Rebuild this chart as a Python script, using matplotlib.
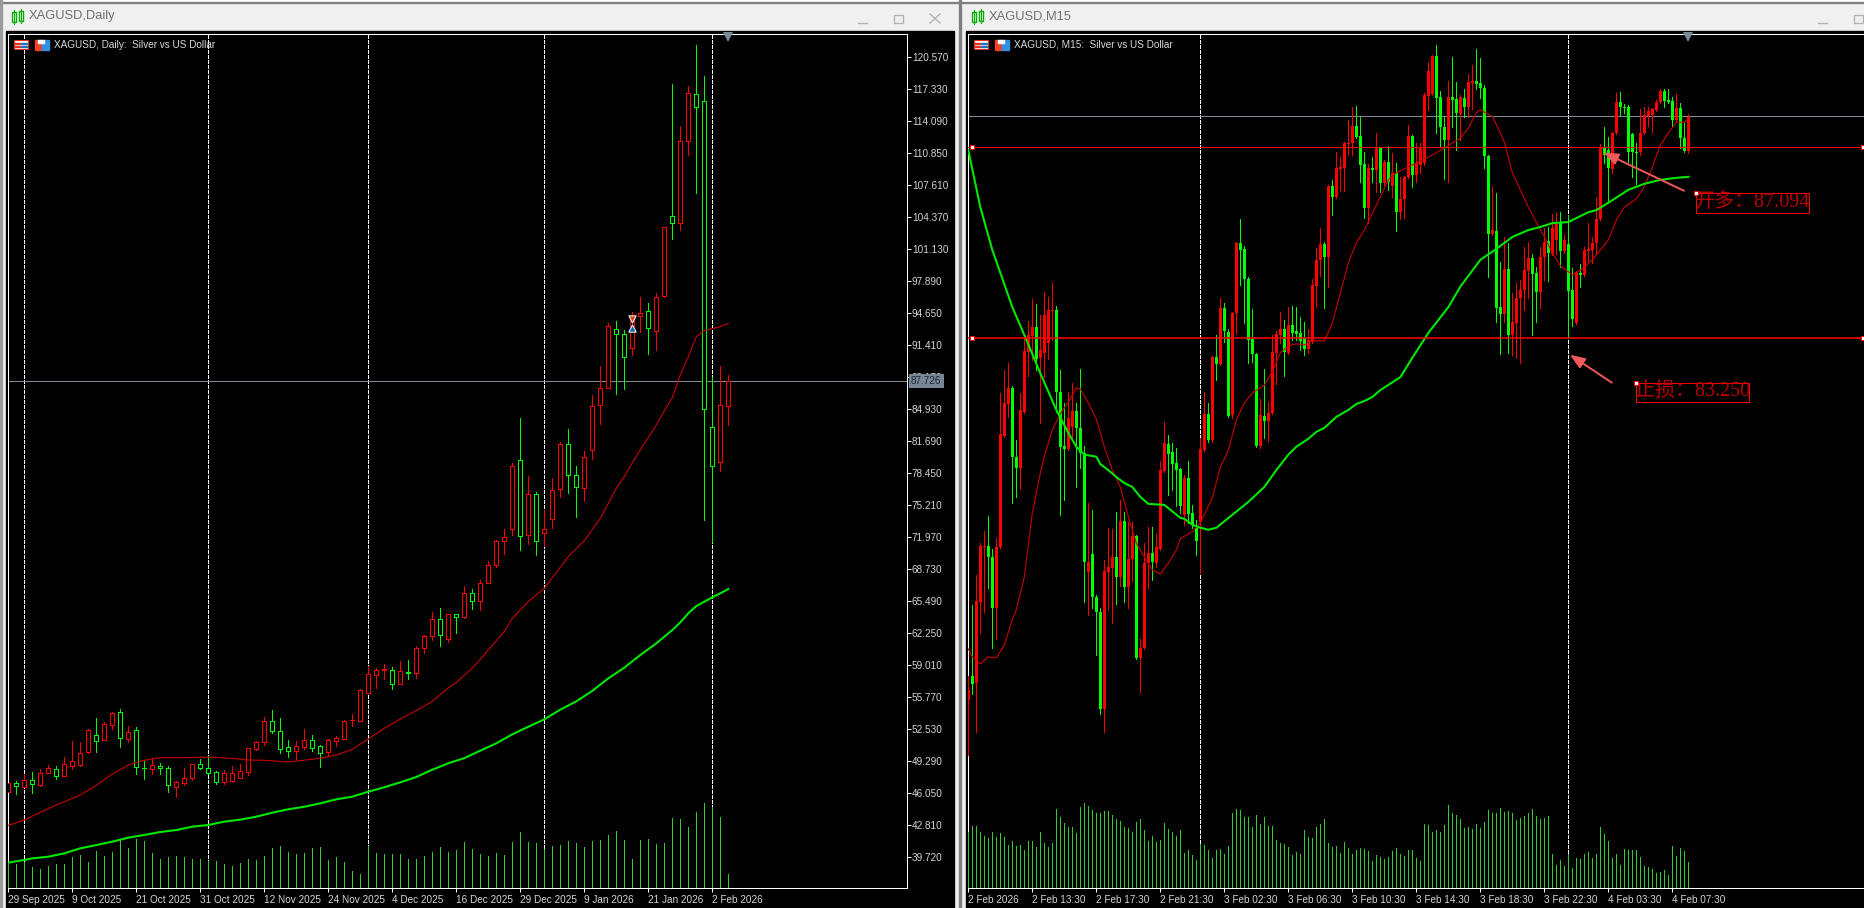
import numpy as np
import matplotlib
matplotlib.use('Agg')
import matplotlib.pyplot as plt
from matplotlib.patches import Rectangle

W, H = 1865, 908
UI_FONT = ['Liberation Sans', 'DejaVu Sans']
NOTE_FONT = ['Liberation Serif', 'Noto Sans CJK SC']
PX = 0.72  # one pixel in points at dpi 100

# ---- daily chart. r = up candle, g = down candle
d1_dir = "rgrgrrgrrr" "rgrrgrggrg" "grrrgggrrr" "rrrgggrrgg" "rrrrrrrrgr" "grrrgrgrgr" "rrrrgrgrrr" "ggrrrrggrr" "grrgrrgggrr"
d1_high = [47.07,47.23,47.91,48.14,48.45,48.85,48.75,49.63,51.28,51.18,
           52.46,53.61,53.17,54.19,54.49,52.80,52.67,49.26,49.53,49.02,
           48.72,47.27,48.55,48.99,49.43,49.77,48.25,48.35,48.79,48.96,
           50.61,51.28,53.68,54.42,53.61,51.39,51.25,52.46,51.86,50.85,
           51.45,51.79,53.41,54.02,56.55,58.88,58.65,59.08,58.75,59.39,
           59.49,60.91,61.99,64.35,64.76,64.18,64.15,66.98,66.68,67.59,
           69.51,71.61,72.75,79.40,83.99,78.09,76.49,74.68,77.88,81.53,
           82.88,79.10,80.62,86.29,89.26,93.58,93.81,92.87,94.69,96.21,
           95.60,96.62,103.36,117.80,113.55,117.60,121.75,118.62,88.11,89.26,88.31]
d1_top = [47.00,47.00,47.34,47.34,48.01,48.52,48.41,48.96,49.29,50.03,
          52.40,51.86,53.00,54.09,54.19,52.23,52.36,48.52,48.82,48.79,
          48.52,47.10,47.57,48.92,48.92,48.52,48.11,48.01,48.01,48.28,
          50.54,51.22,53.27,53.27,52.26,50.64,50.74,51.35,51.35,50.74,
          51.35,51.59,53.34,53.44,56.41,58.04,58.44,58.55,58.44,58.34,
          58.24,60.67,61.89,63.61,63.61,64.11,64.11,66.24,66.24,67.25,
          69.07,71.50,71.91,79.10,79.77,76.26,76.26,72.79,76.67,81.33,
          81.39,78.25,80.01,85.17,87.00,93.27,92.97,92.46,94.25,94.59,
          94.79,96.21,103.29,104.41,112.00,116.86,116.76,116.05,83.05,85.27,87.73]
d1_bot = [46.15,46.73,46.66,46.93,46.83,48.08,47.74,47.77,48.75,48.85,
          50.17,51.32,51.42,52.90,51.62,51.49,48.69,48.50,48.45,48.58,
          46.83,46.59,47.03,47.57,48.58,48.08,47.17,47.13,47.27,47.57,
          48.18,50.47,51.22,52.33,50.51,50.24,50.24,50.71,50.61,50.03,
          50.20,51.28,51.52,53.41,53.34,56.18,58.00,58.44,57.09,57.09,
          58.22,58.14,60.67,61.89,61.99,61.58,63.81,63.81,65.50,65.50,
          67.32,69.14,71.57,72.79,72.08,72.18,71.57,72.32,73.73,76.77,
          78.19,76.97,76.94,80.79,85.27,87.06,92.46,90.13,91.05,94.35,
          93.14,92.83,96.37,103.70,103.77,112.07,115.51,84.94,79.17,79.57,85.24]
d1_low = [46.09,45.92,46.59,46.05,46.76,48.01,47.47,47.74,48.48,48.79,
          50.10,50.17,51.38,52.50,50.68,51.18,47.98,47.44,47.94,47.94,
          46.15,45.61,46.83,47.37,48.41,47.94,46.93,46.96,47.17,47.50,
          47.84,50.41,50.88,52.09,50.10,49.63,49.46,50.47,50.27,48.65,
          49.77,50.81,51.45,52.84,53.27,56.12,56.69,57.57,56.55,57.03,
          57.57,57.70,60.23,61.55,60.91,61.35,62.22,63.78,64.65,64.59,
          67.25,68.91,70.26,72.15,70.63,71.27,70.12,71.03,72.85,76.03,
          76.43,74.00,75.62,79.84,83.42,87.00,86.42,86.93,90.37,92.73,
          90.47,90.88,96.27,102.08,103.02,110.62,106.80,73.67,71.47,78.63,83.28]
d1_volume = [80,73,80,64,57,67,73,73,94,100,79,112,97,109,145,121,148,142,106,88,
             94,97,94,88,88,82,82,73,67,76,88,85,97,121,127,109,103,106,121,124,
             85,94,79,52,43,127,106,103,103,103,88,88,97,109,124,109,115,139,118,103,
             97,106,100,139,169,139,136,118,127,130,142,136,124,142,145,160,172,145,88,145,
             148,133,136,211,208,184,229,256,244,214,43]

d1_fast_bar = [0,2,4,6,9,11,13,15,17,19,22,25,28,30,32,35,39,41,43,45,47,49,51,53,55,56,58,60,62,63,65,67,
               70,72,74,76,77,78,79,81,82,83,84,85,86,87,88,89,90]
d1_fast = [42.75,43.29,44.06,44.80,45.82,46.80,47.94,48.85,49.33,49.60,49.60,49.66,49.53,49.36,49.33,49.16,
           49.53,49.87,50.44,51.49,52.57,53.51,54.36,55.30,56.65,57.23,58.65,60.50,62.36,63.71,65.40,66.75,
           69.95,71.57,73.83,76.87,78.05,79.47,80.75,83.28,84.73,86.05,88.35,90.20,92.23,92.83,93.04,93.24,93.58]
d1_slow_bar = [0,2,3,5,7,9,11,13,15,17,19,21,23,25,27,29,31,33,35,37,39,41,43,45,47,49,51,53,55,57,59,61,
               63,65,67,69,71,73,75,77,79,81,83,84,85,86,87,88,89,90]
d1_slow = [38.97,39.24,39.40,39.57,39.91,40.42,40.75,41.09,41.50,41.77,42.07,42.27,42.61,42.78,43.12,43.32,
           43.62,44.03,44.37,44.63,44.97,45.38,45.65,46.15,46.60,47.10,47.64,48.38,49.03,49.55,50.31,51.05,
           51.96,52.73,53.48,54.46,55.30,56.36,57.63,58.71,59.99,61.17,62.52,63.30,64.21,64.95,65.39,65.83,66.24,66.67]

d1_ticks = [120.57,117.33,114.09,110.85,107.61,104.37,101.13,97.89,94.65,91.41,88.17,84.93,81.69,
            78.45,75.21,71.97,68.73,65.49,62.25,59.01,55.77,52.53,49.29,46.05,42.81,39.57]
d1_tick_labels = ['120.570','117.330','114.090','110.850','107.610','104.370','101.130','97.890','94.650',
                  '91.410','88.170','84.930','81.690','78.450','75.210','71.970','68.730','65.490','62.250',
                  '59.010','55.770','52.530','49.290','46.050','42.810','39.720']
d1_dates = ['29 Sep 2025','9 Oct 2025','21 Oct 2025','31 Oct 2025','12 Nov 2025','24 Nov 2025',
            '4 Dec 2025','16 Dec 2025','29 Dec 2025','9 Jan 2026','21 Jan 2026','2 Feb 2026']
d1_separators = [2,25,45,67,88]
last_price = 87.726

# ---- 15 minute chart
m15_dir = ("rgrrrggrrr" "rggrrrrgrr" "rrgggrrggg" "rgggrrrgrg" "rrgrrrgrrr" "ggggrgggrr" "grgrggrrgg" "gggrgrrrrg"
           "rggggrrrrg" "rgrrrrrggg" "rgrgrgrgrr" "rgrrrrrggg" "rggrgrrggg" "grggrgrrrr" "rggrrgrrgr" "ggrgrrrrrg"
           "grrgggggrr" "rrrrgggrggr")
m15_high = [76.46,77.89,78.49,79.13,79.38,79.68,79.01,79.23,82.15,82.62,
            82.76,82.29,81.21,82.15,83.32,83.60,84.04,83.94,83.72,84.19,
            84.08,84.37,83.90,82.62,81.95,82.17,82.35,81.95,82.64,81.09,
            79.94,79.80,78.09,77.83,78.79,79.44,79.42,79.76,80.00,79.76,
            79.56,79.56,79.30,77.20,79.13,79.46,79.46,79.32,80.78,81.57,
            81.31,81.15,81.05,80.64,80.50,80.78,79.90,79.60,81.25,82.17,
            81.95,82.90,83.32,84.06,83.96,83.44,83.78,85.19,85.65,85.11,
            84.49,83.84,82.96,82.03,82.64,81.97,83.32,83.40,83.78,83.62,
            83.88,83.90,83.88,83.68,83.58,83.44,84.45,85.07,85.47,85.19,
            86.34,86.44,87.00,86.90,87.20,87.65,87.91,87.93,87.71,87.00,
            86.76,86.90,87.38,87.10,86.84,87.12,86.98,86.78,86.50,86.52,
            87.54,87.34,87.18,87.18,88.19,88.81,88.95,89.15,88.23,87.71,
            88.43,88.91,88.41,88.15,88.27,88.57,88.75,89.07,88.89,88.35,
            86.94,86.30,86.18,84.79,85.29,85.17,84.16,84.37,84.43,85.09,
            85.19,84.95,84.69,85.09,85.47,85.49,85.75,85.77,85.79,85.33,
            85.73,84.67,84.61,84.75,85.09,85.57,85.29,86.10,87.16,87.50,
            87.30,87.40,88.19,88.21,87.97,87.95,87.38,87.18,87.87,87.91,
            87.91,87.89,88.05,88.27,88.27,88.27,88.11,88.17,87.99,87.59,87.77]
m15_top = [76.18,76.46,77.97,79.07,79.07,79.07,78.85,79.05,81.33,81.95,
           82.25,82.25,80.87,81.81,83.00,83.32,83.48,83.48,83.02,83.72,
           83.82,83.82,83.82,82.17,81.09,81.65,81.79,81.79,81.45,80.95,
           78.75,78.91,78.05,77.75,78.57,78.65,78.85,78.85,79.58,79.58,
           78.81,79.28,79.28,77.02,78.73,78.93,78.93,79.05,80.60,81.15,
           81.13,80.97,80.74,80.62,80.44,80.44,79.74,79.44,81.02,81.73,
           81.73,82.88,82.88,83.86,83.86,83.38,83.76,85.17,85.17,85.05,
           84.45,83.24,82.94,81.71,81.69,81.75,82.98,83.34,83.44,83.44,
           83.52,83.52,83.40,83.36,83.26,83.22,84.33,84.83,85.15,85.15,
           86.32,86.32,86.68,86.70,87.18,87.18,87.52,87.52,87.32,86.76,
           86.68,86.68,87.08,87.08,86.80,86.80,86.58,86.58,86.06,86.50,
           87.32,87.32,86.78,87.10,88.15,88.63,88.93,88.93,88.11,87.50,
           88.11,88.11,88.07,88.11,88.09,88.41,88.43,88.43,88.39,88.29,
           86.92,85.43,85.41,83.88,84.65,84.65,83.58,84.06,84.22,84.63,
           84.87,84.87,84.57,84.89,85.19,85.21,85.47,85.55,85.59,85.23,
           85.15,84.22,84.59,84.57,85.03,85.05,85.17,85.65,87.08,87.08,
           87.04,87.38,88.01,88.01,87.91,87.91,87.36,87.00,87.38,87.75,
           87.83,87.87,88.01,88.23,88.23,88.05,88.03,87.89,87.89,87.28,87.70]
m15_bot = [75.97,76.30,76.32,77.95,79.05,78.85,77.83,77.83,79.05,81.29,
           81.93,80.87,80.64,80.64,81.77,82.98,83.30,82.84,82.86,82.96,
           83.16,83.80,82.17,81.07,81.03,81.03,81.47,81.45,80.95,78.75,
           78.55,78.05,77.75,75.79,75.79,78.55,78.63,78.45,78.45,78.25,
           78.25,78.81,76.82,76.82,77.02,78.73,78.75,78.73,79.01,80.58,
           80.93,80.72,80.60,79.88,79.70,79.72,79.50,79.17,79.56,81.01,
           81.21,81.21,82.74,82.74,83.40,81.69,81.71,83.76,85.03,84.45,
           83.22,82.94,81.09,81.09,81.59,81.59,81.75,82.96,83.32,82.98,
           82.96,83.36,83.34,83.20,83.04,83.04,83.18,84.31,84.83,84.89,
           84.89,86.10,86.10,86.66,86.68,87.16,87.18,87.30,86.74,85.87,
           85.87,86.64,86.64,86.38,86.38,86.40,86.32,85.79,85.79,86.06,
           86.50,86.54,86.54,86.74,86.78,88.13,88.17,88.09,87.50,87.24,
           87.24,88.05,87.79,87.77,87.91,87.91,88.39,88.37,88.29,86.92,
           85.35,85.35,83.86,83.74,83.74,83.32,83.32,83.56,84.06,84.22,
           84.61,84.55,84.19,84.19,84.89,84.97,84.95,85.23,85.01,85.01,
           84.20,83.64,83.56,84.53,84.53,85.01,85.03,85.17,85.65,86.94,
           86.68,86.66,87.38,87.91,87.89,87.00,87.00,86.98,87.00,87.38,
           87.73,87.75,87.85,88.01,88.03,88.01,87.65,87.65,87.28,87.02,87.02]
m15_low = [74.87,76.10,75.33,77.32,77.75,78.23,77.02,77.20,79.03,81.27,
           81.67,79.94,80.06,80.22,81.75,82.49,82.82,82.62,81.55,82.47,
           82.84,83.22,81.77,79.70,80.00,81.01,81.21,80.26,80.64,77.95,
           77.69,77.83,76.88,75.69,75.33,77.79,77.53,77.91,78.27,77.95,
           77.83,78.37,76.80,76.14,77.00,78.23,78.39,78.65,78.99,80.56,
           80.10,80.20,79.88,79.74,79.50,79.54,79.44,78.89,78.53,80.99,
           81.17,81.17,82.41,82.72,83.18,81.67,81.65,83.36,84.33,83.56,
           82.76,82.78,81.07,81.05,81.25,81.19,81.73,82.33,83.16,82.49,
           82.94,83.22,83.22,83.02,82.92,82.96,83.16,83.88,84.51,83.86,
           84.29,85.73,86.08,86.22,86.22,86.94,86.94,87.28,86.40,85.67,
           85.57,86.40,86.20,86.20,86.34,86.24,86.10,85.41,85.65,85.67,
           86.48,86.30,86.40,86.58,86.74,87.85,88.15,87.38,87.10,86.46,
           86.40,87.50,87.04,87.24,87.71,87.71,87.87,88.27,88.09,86.68,
           84.49,85.33,83.58,82.94,83.58,82.96,82.92,82.86,82.76,83.82,
           84.06,83.32,83.58,83.86,84.43,84.41,84.93,84.95,84.69,84.97,
           83.26,83.50,83.54,84.29,84.51,84.81,84.77,84.97,85.63,86.78,
           85.98,86.58,87.36,87.75,87.79,86.80,86.50,86.36,86.94,87.36,
           87.52,87.40,87.83,87.99,87.91,87.99,87.52,87.63,87.08,87.00,86.98]
m15_volume = [170,187,187,169,157,151,169,154,166,154,130,142,127,130,115,142,142,124,169,136,
              124,136,238,214,196,184,184,166,244,256,247,235,226,226,232,232,220,208,202,184,
              181,169,199,208,175,142,157,139,145,196,178,169,157,175,106,115,100,85,133,130,
              115,91,115,118,103,127,226,238,235,214,214,184,220,193,214,187,187,145,136,133,
              124,100,109,103,175,154,151,184,193,208,136,124,127,106,139,121,103,115,
              122,117,112,82,100,93,89,95,113,121,103,97,115,115,91,82,
              193,190,170,175,170,190,250,226,220,208,180,184,178,193,180,199,235,226,227,240,
              228,233,227,205,212,217,225,238,217,209,212,217,103,71,85,67,102,61,91,88,
              103,110,92,103,184,163,142,91,103,70,118,115,115,115,94,67,64,58,46,49,55,40,127,97,121,113,79]

m15_fast_bar = [0,1,3,5,7,9,11,12,14,16,18,19,21,23,25,27,28,30,32,34,36,38,40,42,44,46,48,50,52,53,56,58,61,63,65,
                67,69,71,74,76,78,80,82,84,86,89,91,93,95,97,99,101,103,105,107,112,116,119,123,125,127,128,131,
                133,134,136,138,140,142,144,146,148,151,154,157,160,162,164,167,169,171,173,175,177,179,180]
m15_fast = [77.00,76.84,76.70,76.84,76.82,77.08,77.59,77.79,78.45,79.74,80.54,80.87,81.41,81.73,81.97,82.25,82.23,
            81.95,81.63,81.07,80.60,80.26,79.66,79.13,78.85,78.59,78.51,78.73,78.99,79.22,79.36,79.54,80.04,80.66,
            81.00,81.61,81.95,82.15,82.31,82.58,82.96,83.10,83.14,83.12,83.20,83.20,83.56,84.16,84.77,85.17,85.43,
            85.77,86.10,86.44,86.58,86.78,86.94,87.08,87.28,87.48,87.79,87.85,87.71,87.38,87.20,86.58,86.24,85.89,
            85.59,85.29,84.97,84.71,84.53,84.67,84.93,85.23,85.63,85.89,86.06,86.30,86.70,87.14,87.38,87.60,87.60,87.66]
m15_slow_bar = [0,3,6,8,11,14,18,22,25,27,29,32,33,35,37,39,41,43,45,49,53,54,56,58,60,62,66,70,74,77,80,82,85,87,89,
                92,95,97,99,101,103,108,111,115,120,123,128,132,136,140,143,146,150,152,155,157,161,165,169,173,177,180]
m15_slow = [87.04,85.89,85.03,84.57,83.88,83.32,82.55,81.81,81.35,81.07,80.91,80.87,80.72,80.60,80.46,80.34,80.26,
            80.06,79.92,79.90,79.64,79.62,79.50,79.44,79.40,79.44,79.70,79.96,80.26,80.60,80.91,81.07,81.23,81.37,
            81.45,81.67,81.81,81.93,81.99,82.07,82.21,82.47,82.86,83.36,83.88,84.29,84.83,85.05,85.29,85.43,85.49,
            85.57,85.59,85.67,85.79,85.83,86.03,86.24,86.36,86.44,86.48,86.50]
m15_dates = ['2 Feb 2026','2 Feb 13:30','2 Feb 17:30','2 Feb 21:30','3 Feb 02:30','3 Feb 06:30','3 Feb 10:30',
             '3 Feb 14:30','3 Feb 18:30','3 Feb 22:30','4 Feb 03:30','4 Feb 07:30']
m15_separators = [58,150]
entry_price = 87.094
stop_price = 83.25
entry_note = '开多：87.094'
stop_note = '止损：83.250'


def add_ax(left, top, right, bottom, **kw):
    return fig.add_axes([left / W, 1 - bottom / H, (right - left) / W, (bottom - top) / H], **kw)


def candles(ax, dirs, high, top, bot, low, width, hollow):
    x = np.arange(len(dirs))
    up = np.array([d == 'r' for d in dirs])
    high, top, bot, low = map(np.array, (high, top, bot, low))
    for mask, col in ((up, '#ff0000'), (~up, '#00ff00')):
        ax.vlines(x[mask], low[mask], high[mask], color=col, lw=PX, zorder=3, antialiased=False)
        if hollow:
            ax.bar(x[mask], top[mask] - bot[mask], width, bot[mask], facecolor='black', edgecolor=col, lw=PX,
                   zorder=4, antialiased=False)
        else:
            ax.bar(x[mask], top[mask] - bot[mask], width, bot[mask], color=col, lw=0, zorder=4, antialiased=False)


def style_chart(ax, dates, tick_step):
    ax.set_facecolor('black')
    for s in ax.spines.values():
        s.set_color('white')
        s.set_linewidth(PX)
    ax.set_xticks(np.arange(len(dates)) * tick_step)
    ax.set_xticklabels(dates, ha='left', family=UI_FONT, fontsize=7.2, color='#d4d4d4')
    ax.tick_params(axis='x', colors='white', length=3, width=PX, pad=2, labelcolor='#d4d4d4')


fig = plt.figure(figsize=(W / 100, H / 100), dpi=100, facecolor='#f0f0f0')

# window frames, title bars and buttons
ui = fig.add_axes([0, 0, 1, 1], zorder=-1)
ui.set_xlim(0, W)
ui.set_ylim(H, 0)
ui.axis('off')
ui.add_patch(Rectangle((0, 0), W, 2, color='white'))
ui.add_patch(Rectangle((0, 2), W, 1, color='#808080'))
ui.add_patch(Rectangle((0, 0), 1.5, H, color='#9a9a9a'))
ui.add_patch(Rectangle((6, 31), 948, H, color='black'))
ui.add_patch(Rectangle((959, 0), 2, H, color='#808080'))
ui.add_patch(Rectangle((966, 31), W, H, color='black'))
for x0, name in ((12, 'XAGUSD,Daily'), (972, 'XAGUSD,M15')):
    for dx, top_, h in ((0, 12, 10), (7, 11, 10)):
        ui.add_patch(Rectangle((x0 + dx, top_), 3.5, h, fc='none', ec='#00b000', lw=1))
        ui.plot([x0 + dx + 1.75] * 2, [top_ - 2, top_ + h + 2], color='#00b000', lw=0.8)
    ui.text(x0 + 17, 16.5, name, family=UI_FONT, fontsize=9.3, color='#707070', va='center')
for x0 in (858, 1818):
    ui.plot([x0, x0 + 9], [22.5, 22.5], color='#b4b4b4', lw=1)
    ui.add_patch(Rectangle((x0 + 36, 14.5), 8.5, 8, fc='none', ec='#b4b4b4', lw=1))
ui.plot([930, 940], [14, 23], color='#b4b4b4', lw=1)
ui.plot([930, 940], [23, 14], color='#b4b4b4', lw=1)

# ---- left chart
ax1 = add_ax(8.3, 33.5, 906.8, 888.3)
style_chart(ax1, d1_dates, 8)
ax1.set_xlim(0, 112.31)
ax1.set_ylim(36.37, 122.92)
ax1.yaxis.tick_right()
ax1.set_yticks(d1_ticks)
ax1.set_yticklabels(d1_tick_labels, family=UI_FONT, fontsize=7.2)
ax1.tick_params(axis='y', colors='white', length=3, width=PX, pad=0.6, labelcolor='#d4d4d4')
for b in d1_separators:
    ax1.axvline(b, color='white', lw=PX, ls=(0, (3, 2)), zorder=1, antialiased=False)
ax1.axhline(last_price, color='#7d8b99', lw=PX, zorder=2)
candles(ax1, d1_dir, d1_high, d1_top, d1_bot, d1_low, 0.5, True)
ax1.plot(d1_fast_bar, d1_fast, color='#c80000', lw=0.8, zorder=5)
ax1.plot(d1_slow_bar, d1_slow, color='#00e800', lw=1.5, zorder=5)
ax1.scatter([78], [93.98], marker='v', s=28, c='#e04020', edgecolors='white', linewidths=0.7, zorder=6)
ax1.scatter([78], [93.07], marker='^', s=28, c='#1060b0', edgecolors='white', linewidths=0.7, zorder=6)
ax1.text(1.0045, last_price, f'{last_price:.3f}', transform=ax1.get_yaxis_transform(), va='center', ha='left',
         family=UI_FONT, fontsize=7.2, color='#202830', zorder=10, clip_on=False,
         bbox=dict(fc='#768696', ec='none', pad=1.6))
ax1.plot([90], [0.9955], marker='v', ms=7, color='#7b8a99', mew=0, transform=ax1.get_xaxis_transform(), clip_on=False, zorder=7)

vol1 = add_ax(8.3, 33.5, 906.8, 888.3, facecolor='none')
vol1.axis('off')
vol1.set_xlim(ax1.get_xlim())
vol1.set_ylim(0, 2564)
vol1.vlines(np.arange(len(d1_volume)), 0, d1_volume, color='#32cd32', lw=PX, antialiased=False)

# ---- right chart
ax2 = add_ax(968.3, 33.5, 1866, 888.3)
style_chart(ax2, m15_dates, 16)
ax2.set_xlim(0, 224.4)
ax2.set_ylim(72.186, 89.384)
ax2.set_yticks([])
ax2.spines['right'].set_visible(False)
for b in m15_separators:
    ax2.axvline(b, color='white', lw=PX, ls=(0, (3, 2)), zorder=1, antialiased=False)
ax2.axhline(last_price, color='#7d8b99', lw=PX, zorder=2)
candles(ax2, m15_dir, m15_high, m15_top, m15_bot, m15_low, 0.75, False)
ax2.axhline(entry_price, color='#ff0000', lw=PX, zorder=6)
ax2.axhline(stop_price, color='#ff0000', lw=1.1, zorder=6)
ax2.plot(m15_fast_bar, m15_fast, color='#c80000', lw=0.8, zorder=5)
ax2.plot(m15_slow_bar, m15_slow, color='#00e800', lw=1.5, zorder=5)
ax2.plot([0.85, 223.7, 0.85, 223.7], [entry_price, entry_price, stop_price, stop_price], ls='none', marker='s', ms=3.4,
         mfc='white', mec='#ff0000', mew=0.7, zorder=8)
ax2.plot([180], [0.9955], marker='v', ms=7, color='#7b8a99', mew=0, transform=ax2.get_xaxis_transform(), clip_on=False, zorder=7)

# trade notes with their arrows
for start, tip in (((178.9, 86.22), (158.75, 86.99)), ((160.85, 82.36), (150.4, 82.92))):
    ax2.annotate('', xy=tip, xytext=start, zorder=9,
                 arrowprops=dict(arrowstyle='-|>,head_width=0.35,head_length=0.9', color='#f05a5a', lw=1.4, shrinkA=0, shrinkB=0))
for bar, price, note in ((182, 86.17, entry_note), (167, 82.35, stop_note)):
    ax2.add_patch(Rectangle((bar, price - 0.39), 28.1, 0.39, fc='none', ec='#ff0000', lw=PX, zorder=9))
    ax2.text(bar + 14.05, price - 0.195, note, family=NOTE_FONT, fontsize=14.4, color='#b80000',
             ha='center', va='center', zorder=9)
    ax2.plot([bar], [price], marker='s', ms=3.4, mfc='white', mec='#ff0000', mew=0.7, zorder=10)

vol2 = add_ax(968.3, 33.5, 1866, 888.3, facecolor='none')
vol2.axis('off')
vol2.set_xlim(ax2.get_xlim())
vol2.set_ylim(0, 2564)
vol2.vlines(np.arange(len(m15_volume)), 0, m15_volume, color='#32cd32', lw=PX, antialiased=False)

# chart captions and the two small icons next to them
top_ui = fig.add_axes([0, 0, 1, 1], facecolor='none', zorder=20)
top_ui.set_xlim(0, W)
top_ui.set_ylim(H, 0)
top_ui.axis('off')
for off, caption in ((0, 'XAGUSD, Daily:  Silver vs US Dollar'), (960, 'XAGUSD, M15:  Silver vs US Dollar')):
    top_ui.add_patch(Rectangle((off + 13.5, 40), 14, 9, fc='white', ec='#e03020', lw=0.8))
    top_ui.add_patch(Rectangle((off + 14, 42.5), 6, 1.2, color='#e03020'))
    top_ui.add_patch(Rectangle((off + 14, 45.5), 6, 1.2, color='#e03020'))
    top_ui.add_patch(Rectangle((off + 21, 42.5), 6, 1.2, color='#2070c0'))
    top_ui.add_patch(Rectangle((off + 21, 45.5), 6, 1.2, color='#2070c0'))
    top_ui.add_patch(Rectangle((off + 34.5, 39.5), 6, 10, color='#f04030'))
    top_ui.add_patch(Rectangle((off + 42, 39.5), 6.5, 10, color='#3090e0'))
    top_ui.add_patch(Rectangle((off + 38, 39.5), 6, 3, color='white'))
    top_ui.text(off + 54, 44.7, caption, family=UI_FONT, fontsize=7.2, color='#d8d8d8', va='center')

fig.savefig('out.png', dpi=100, facecolor=fig.get_facecolor())
